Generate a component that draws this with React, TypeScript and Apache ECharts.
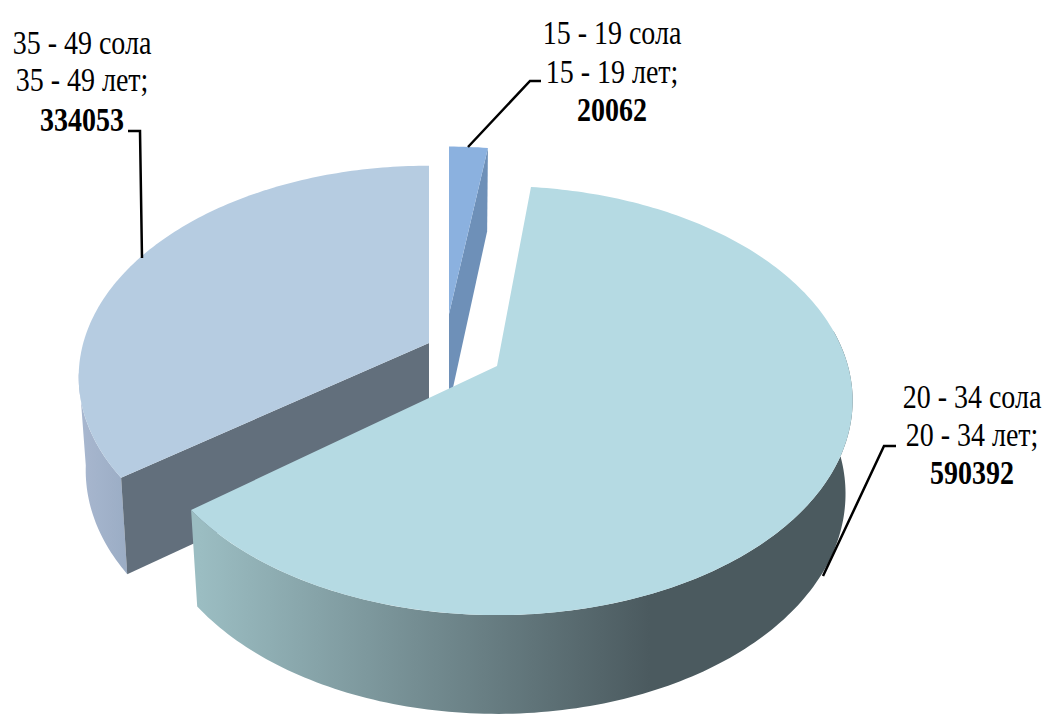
import React, { useEffect, useRef } from "react";
import * as echarts from "echarts";

// Data
const ageKk = ["15 - 19 сола", "20 - 34 сола", "35 - 49 сола"];
const ageRu = ["15 - 19 лет;", "20 - 34 лет;", "35 - 49 лет;"];
const values = [20062, 590392, 334053];

// Layout and style of each slice
const apexX = [449, 497, 429];
const apexY = [314, 366, 343];
const sliceScale = [0.93, 1, 0.985];
const startNudge = [0, -1.2, 1];
const endNudge = [0.3, -1, 0];
const topColor = ["#8BB1DF", "#B5DAE3", "#B6CCE1"];
const edgeColor = ["#6E90B8", "#4B5A5F", "#626F7C"];
const wallFrom = [
  ["#6E90B8", "#6E90B8"],
  ["#9BBDC2", "#4B5A5F"],
  ["#A8B7CF", "#9AACC4"],
];
const wallX = [[449, 490], [200, 650], [80, 130]];
const labelX = [612, 972, 82];
const labelY = [[33, 72, 110], [397, 435, 473], [43, 80, 120]];
const leaders = [
  [[468, 147], [530, 81], [541, 81]],
  [[896, 446], [884, 446], [823, 576]],
  [[128, 131], [140, 131], [142, 258]],
];

const RX = 351;
const RY = 209;
const K = 0.161;
const FONT = "'Liberation Serif', 'Times New Roman', serif";

const total = values.reduce((a, b) => a + b, 0);
const starts: number[] = [];
values.reduce((acc, v, i) => {
  starts[i] = acc;
  return acc + (v / total) * 360;
}, 0);
const drawOrder = values.map((_, i) => i).sort((a, b) => apexY[a] - apexY[b]);

function topPoint(i: number, deg: number, r = 1): number[] {
  const t = (deg * Math.PI) / 180;
  const u = Math.sin(t) * r;
  const v = -Math.cos(t) * r;
  const w = 1 - K * v;
  const s = sliceScale[i];
  return [apexX[i] + (s * RX * u) / w, apexY[i] + (s * RY * v) / w];
}

function bottomPoint(i: number, deg: number, r = 1): number[] {
  const t = (deg * Math.PI) / 180;
  const v = -Math.cos(t) * r;
  const p = topPoint(i, deg, r);
  return [
    apexX[i] + (p[0] - apexX[i]) * 0.98,
    apexY[i] + (p[1] - apexY[i]) * 0.975 + 92 + 13 * v,
  ];
}

function arc(from: number, to: number, fn: (d: number) => number[]): number[][] {
  const n = Math.max(2, Math.ceil(Math.abs(to - from)));
  const pts: number[][] = [];
  for (let k = 0; k <= n; k++) pts.push(fn(from + ((to - from) * k) / n));
  return pts;
}

function cross(a: number[], b: number[]): number {
  return a[0] * b[1] - a[1] * b[0];
}

function renderSlice(_params: any, api: any) {
  const i = api.value(0) as number;
  const start = starts[i] + startNudge[i];
  const sweep = ((api.value(1) as number) / total) * 360;
  const end = starts[i] + sweep + endNudge[i];
  const children: any[] = [];
  const apexTop = topPoint(i, 0, 0);
  const apexBottom = bottomPoint(i, 0, 0);

  // outer wall (only the part facing the viewer)
  const a0 = Math.max(start, 80);
  const a1 = Math.min(end, 262);
  if (a1 > a0) {
    const pts = arc(a0, a1, (d) => topPoint(i, d)).concat(
      arc(a1, a0, (d) => bottomPoint(i, d))
    );
    children.push({
      type: "polygon",
      shape: { points: pts },
      style: {
        fill: new echarts.graphic.LinearGradient(
          wallX[i][0], 0, wallX[i][1], 0,
          [
            { offset: 0, color: wallFrom[i][0] },
            { offset: 1, color: wallFrom[i][1] },
          ],
          true
        ),
      },
      silent: true,
    });
  }

  // radial walls, drawn only when they face the viewer
  [
    [start, start + sweep / 2],
    [end, end - sweep / 2],
  ].forEach(([edgeDeg, innerDeg]) => {
    const e = topPoint(i, edgeDeg);
    const m = topPoint(i, innerDeg);
    const edge = [e[0] - apexTop[0], e[1] - apexTop[1]];
    const inner = [m[0] - apexTop[0], m[1] - apexTop[1]];
    if (cross(edge, inner) * cross(edge, [0, 1]) < -1e-6) {
      children.push({
        type: "polygon",
        shape: { points: [apexTop, e, bottomPoint(i, edgeDeg), apexBottom] },
        style: { fill: edgeColor[i] },
        silent: true,
      });
    }
  });

  // top face
  children.push({
    type: "polygon",
    shape: { points: [apexTop].concat(arc(start, end, (d) => topPoint(i, d))) },
    style: { fill: topColor[i] },
    silent: true,
  });

  // leader line
  children.push({
    type: "polyline",
    shape: { points: leaders[i] },
    style: { stroke: "#000000", lineWidth: 2.5, fill: "none" },
    silent: true,
  });

  // label lines
  [ageKk[i], ageRu[i], String(api.value(1))].forEach((line, k) => {
    children.push({
      type: "text",
      x: labelX[i],
      y: labelY[i][k],
      scaleY: 1.2,
      style: {
        text: line,
        x: 0,
        y: 0,
        align: "center",
        verticalAlign: "middle",
        fontFamily: FONT,
        fontSize: 28,
        fontWeight: k === 2 ? "bold" : "normal",
        fill: "#000000",
      },
      silent: true,
    });
  });

  return { type: "group", children };
}

export default function App() {
  const ref = useRef<HTMLDivElement>(null);
  useEffect(() => {
    const chart = echarts.init(ref.current!, null, { renderer: "svg" });
    chart.setOption({
      animation: false,
      backgroundColor: "#ffffff",
      series: [
        {
          type: "custom",
          coordinateSystem: "none",
          renderItem: renderSlice,
          data: drawOrder.map((i) => [i, values[i]]),
          encode: { value: [1] },
          animation: false,
          clip: false,
        },
      ],
    });
    return () => chart.dispose();
  }, []);
  return (
    <div
      ref={ref}
      style={{ position: "fixed", left: 0, top: 0, width: 1046, height: 714 }}
    />
  );
}
